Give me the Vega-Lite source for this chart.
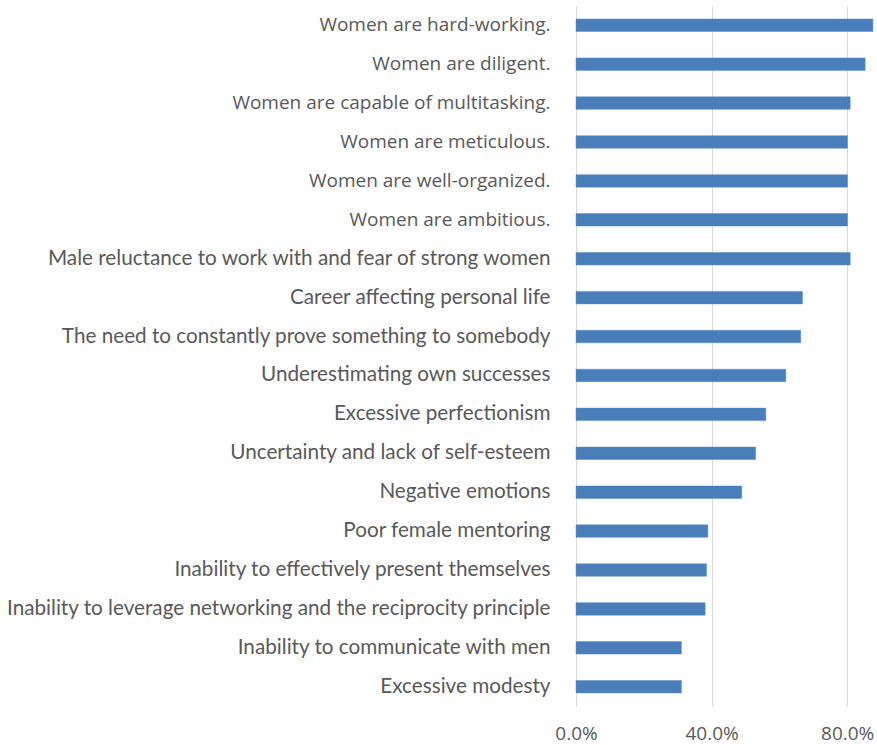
{
  "$schema": "https://vega.github.io/schema/vega-lite/v6.json",
  "width": 301,
  "height": 700,
  "autosize": {"type": "none"},
  "padding": {"left": 576, "top": 6, "right": 0, "bottom": 39},
  "background": "white",
  "config": {"view": {"stroke": null}},
  "data": {
    "values": [
      {"item": "Women are hard-working.", "value": 0.876},
      {"item": "Women are diligent.", "value": 0.853},
      {"item": "Women are capable of multitasking.", "value": 0.809},
      {"item": "Women are meticulous.", "value": 0.801},
      {"item": "Women are well-organized.", "value": 0.801},
      {"item": "Women are ambitious.", "value": 0.801},
      {"item": "Male reluctance to work with and fear of strong women", "value": 0.809},
      {"item": "Career affecting personal life", "value": 0.668},
      {"item": "The need to constantly prove something to somebody", "value": 0.663},
      {"item": "Underestimating own successes", "value": 0.619},
      {"item": "Excessive perfectionism", "value": 0.56},
      {"item": "Uncertainty and lack of self-esteem", "value": 0.53},
      {"item": "Negative emotions", "value": 0.489},
      {"item": "Poor female mentoring", "value": 0.389},
      {"item": "Inability to effectively present themselves", "value": 0.385},
      {"item": "Inability to leverage networking and the reciprocity principle", "value": 0.381},
      {"item": "Inability to communicate with men", "value": 0.311},
      {"item": "Excessive modesty", "value": 0.311}
    ]
  },
  "mark": {"type": "bar", "color": "#4a7ebb", "stroke": "#5b8cc6", "strokeWidth": 0.5},
  "encoding": {
    "y": {
      "field": "item",
      "type": "nominal",
      "sort": null,
      "title": null,
      "scale": {"paddingInner": 0.679, "paddingOuter": 0.334},
      "axis": {
        "ticks": false,
        "domain": true,
        "domainColor": "#d9d9d9",
        "domainWidth": 1,
        "labelPadding": 26,
        "labelColor": "#595959",
        "labelFontSize": {"condition": {"test": "indexof(datum.value, 'Women') === 0", "value": 19}, "value": 20.7},
        "labelFont": {"condition": {"test": "indexof(datum.value, 'Women') === 0", "value": "Open Sans"}, "value": "Lato"},
        "labelLimit": 700
      }
    },
    "x": {
      "field": "value",
      "type": "quantitative",
      "title": null,
      "scale": {"domain": [0, 0.888], "nice": false},
      "axis": {
        "values": [0, 0.4, 0.8],
        "format": ".1%",
        "grid": true,
        "gridColor": "#d9d9d9",
        "gridWidth": 1,
        "domain": false,
        "ticks": false,
        "labelFlush": false,
        "labelPadding": 18,
        "labelColor": "#595959",
        "labelFont": "Open Sans",
        "labelFontSize": 19
      }
    }
  }
}
